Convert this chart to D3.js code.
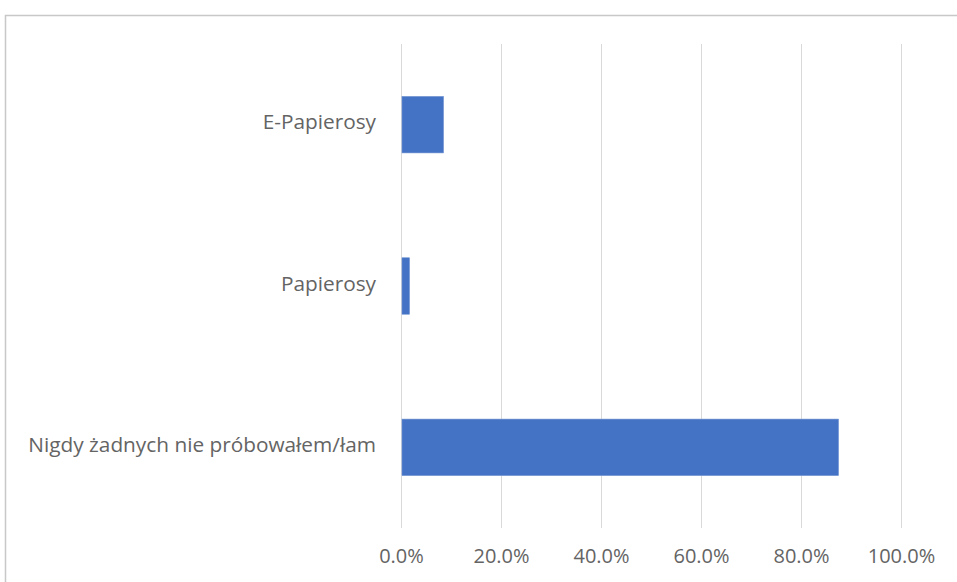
<!DOCTYPE html>
<html><head><meta charset="utf-8">
<script src="https://cdn.jsdelivr.net/npm/d3@7"></script>
<style>body{margin:0;background:#fff}svg{display:block}text{font-family:"Open Sans",sans-serif}</style>
</head><body><svg id="c" width="957" height="582"></svg>
<script>
const categories = ["E-Papierosy", "Papierosy", "Nigdy żadnych nie próbowałem/łam"];
const values = [0.085, 0.017, 0.875];
const tickValues = [0, 0.2, 0.4, 0.6, 0.8, 1.0];

const svg = d3.select("#c");
svg.append("rect").attr("x",5.5).attr("y",15.5).attr("width",1000).attr("height",700)
  .attr("fill","#fff").attr("stroke","#c8c8c8").attr("stroke-width",1.5);

const x = d3.scaleLinear().domain([0,1]).range([401,901]);
const y = d3.scaleBand().domain(categories).range([44,528]).paddingInner(0.65).paddingOuter(0.325);

svg.append("g").selectAll("line").data(tickValues).join("line")
  .attr("x1",d=>x(d)+0.5).attr("x2",d=>x(d)+0.5).attr("y1",44).attr("y2",528)
  .attr("stroke","#d9d9d9").attr("stroke-width",1);

svg.append("g").selectAll("rect").data(categories).join("rect")
  .attr("x",x(0)+1).attr("y",d=>y(d)).attr("height",y.bandwidth())
  .attr("width",(d,i)=>x(values[i])-x(0)-1).attr("fill","#4472C4")
  .attr("stroke","#6d8fd2").attr("stroke-width",0.6);

const xAxis = d3.axisBottom(x).tickValues(tickValues).tickFormat(d3.format(".1%")).tickSize(0).tickPadding(0);
const gx = svg.append("g").attr("transform","translate(0,549)").call(xAxis);
gx.select(".domain").remove();
gx.selectAll("text").attr("fill","#646464").attr("font-size",20).attr("font-family","Open Sans, sans-serif");

const yAxis = d3.axisLeft(y).tickSize(0).tickPadding(0);
const gy = svg.append("g").attr("transform","translate(376,-2)").call(yAxis);
gy.select(".domain").remove();
gy.selectAll("text").attr("fill","#646464").attr("font-size",20.8).attr("font-family","Open Sans, sans-serif");
</script></body></html>
